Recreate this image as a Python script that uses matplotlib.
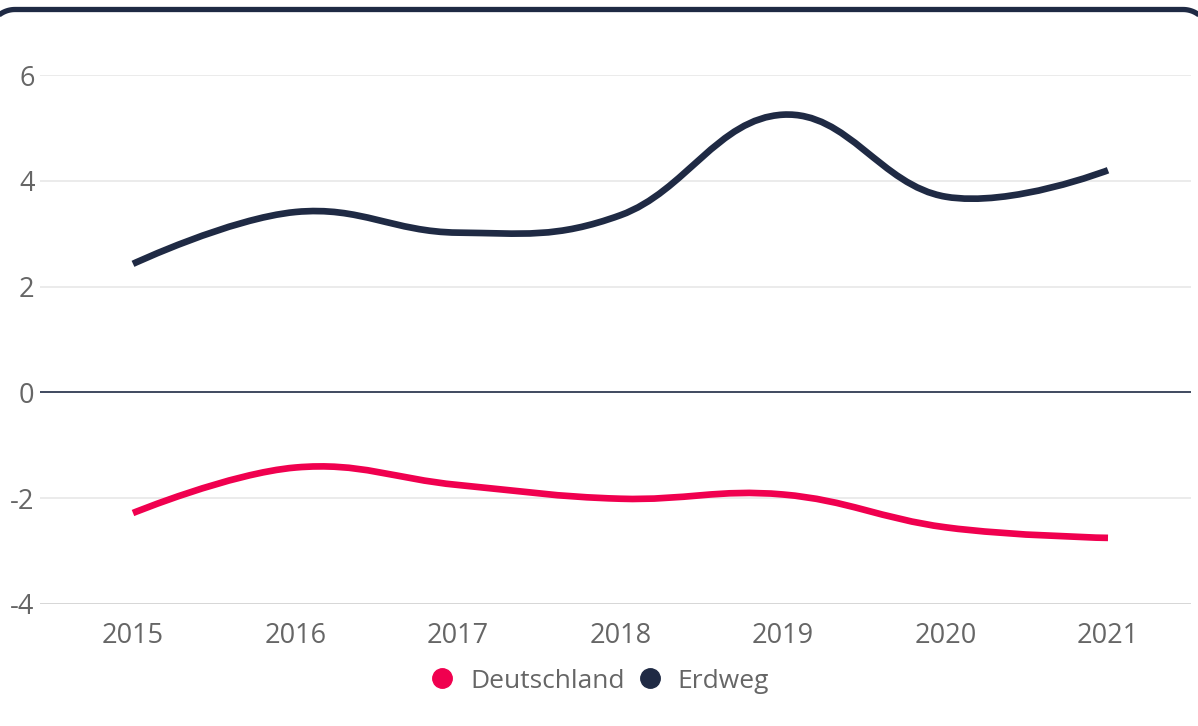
import numpy as np
import matplotlib
matplotlib.use("Agg")
import matplotlib.pyplot as plt
from matplotlib.path import Path
from matplotlib.patches import PathPatch
from matplotlib.lines import Line2D

plt.rcParams['font.family'] = ['Open Sans', 'DejaVu Sans']

# data
years = [2015, 2016, 2017, 2018, 2019, 2020, 2021]
deutschland = [-2.28, -1.42, -1.75, -2.01, -1.93, -2.55, -2.75]
erdweg = [2.43, 3.41, 3.02, 3.35, 5.25, 3.70, 4.20]
series_names = ["Deutschland", "Erdweg"]
y_ticks = [-4, -2, 0, 2, 4, 6]

pink = '#f0004f'
navy = '#1f2a44'
grey_text = '#666666'


def spline_path(x, y, smoothing=1.5):
    # bezier spline in the style of the chart library the original came from
    n = len(x)
    denom = smoothing + 1
    left = [None] * n
    right = [None] * n
    for i in range(1, n - 1):
        lcx = (smoothing * x[i] + x[i - 1]) / denom
        lcy = (smoothing * y[i] + y[i - 1]) / denom
        rcx = (smoothing * x[i] + x[i + 1]) / denom
        rcy = (smoothing * y[i] + y[i + 1]) / denom
        corr = (rcy - lcy) * (rcx - x[i]) / (rcx - lcx) + y[i] - rcy
        left[i] = (lcx, lcy + corr)
        right[i] = (rcx, rcy + corr)
    verts = [(x[0], y[0])]
    codes = [Path.MOVETO]
    for i in range(1, n):
        c1 = right[i - 1] if right[i - 1] else (x[i - 1], y[i - 1])
        c2 = left[i] if left[i] else (x[i], y[i])
        verts += [c1, c2, (x[i], y[i])]
        codes += [Path.CURVE4] * 3
    return Path(verts, codes)


fig = plt.figure(figsize=(11.98, 7.26), dpi=100)
ax = fig.add_axes([40 / 1198, 1 - 604 / 726, (1191 - 40) / 1198, (604 - 75) / 726])

ax.set_xlim(2015 - 93 / 162.5, 2021 + 83 / 162.5)
ax.set_ylim(-4, 6)

for v in y_ticks:
    if v == 0:
        ax.axhline(v, color=navy, lw=1.2, zorder=2)
    elif v == -4:
        ax.axhline(v, color='#d0d0d0', lw=1.2, zorder=1)
    else:
        ax.axhline(v, color='#e6e6e6', lw=1.1, zorder=1)

for vals, col in [(deutschland, pink), (erdweg, navy)]:
    patch = PathPatch(spline_path(years, vals), facecolor='none', edgecolor=col,
                      lw=4.8, capstyle='butt', joinstyle='round', zorder=3, clip_on=False)
    ax.add_patch(patch)

ax.set_xticks(years)
ax.set_xticklabels([str(y) for y in years])
ax.set_yticks(y_ticks)
ax.set_yticklabels([str(v) for v in y_ticks])
ax.tick_params(axis='both', length=0, labelsize=19.5, labelcolor=grey_text)
ax.tick_params(axis='x', pad=13)
ax.tick_params(axis='y', pad=4)
for s in ax.spines.values():
    s.set_visible(False)

handles = [Line2D([], [], ls='none', marker='o', markersize=14, color=c) for c in (pink, navy)]
fig.legend(handles, series_names, loc='center', bbox_to_anchor=(0.5, 1 - 681 / 726), ncol=2,
           frameon=False, fontsize=19, labelcolor=grey_text, handlelength=1.0,
           handletextpad=0.55, columnspacing=0.45)

# rounded card border at the top, drawn in pixel units on an overlay axes
fax = fig.add_axes([0, 0, 1, 1], zorder=5)
fax.set_xlim(0, 1198)
fax.set_ylim(726, 0)
fax.axis('off')
fax.patch.set_alpha(0)
r = 26
top = 9.5
x_left, x_right = -11, 1209
t = np.linspace(0, np.pi / 2, 30)
fx = np.concatenate([[x_left], x_left + r - r * np.cos(t),
                     x_right - r + r * np.sin(t), [x_right]])
fy = np.concatenate([[760], top + r - r * np.sin(t),
                     top + r - r * np.cos(t), [760]])
fax.plot(fx, fy, color=navy, lw=3.8, solid_capstyle='butt', clip_on=False)

fig.savefig('out.png', dpi=100, facecolor='white')
